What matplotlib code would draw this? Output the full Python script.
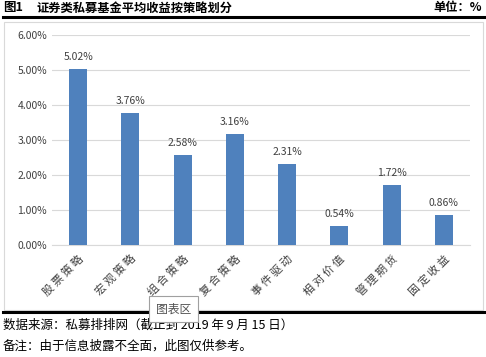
import matplotlib.pyplot as plt
from matplotlib.patches import Rectangle
from matplotlib.lines import Line2D
from matplotlib.ticker import FuncFormatter

plt.rcParams['font.family'] = ['Noto Sans CJK SC', 'DejaVu Sans']

# 数据
strategies = ['股票策略', '宏观策略', '组合策略', '复合策略', '事件驱动', '相对价值', '管理期货', '固定收益']
returns = [5.02, 3.76, 2.58, 3.16, 2.31, 0.54, 1.72, 0.86]
y_ticks = [0, 1, 2, 3, 4, 5, 6]

W, H = 486, 357
fig = plt.figure(figsize=(W / 100, H / 100), dpi=100)


def fx(px):
    return px / W


def fy(py):
    return 1 - py / H


# 标题
fig.text(fx(3), fy(8), '图1', fontsize=9, fontweight='bold', va='center', ha='left')
fig.text(fx(36), fy(8), '证券类私募基金平均收益按策略划分', fontsize=8.8, fontweight='bold', va='center', ha='left')
fig.text(fx(482), fy(8), '单位：%', fontsize=8.8, fontweight='bold', va='center', ha='right')

fig.add_artist(Line2D([fx(3), fx(486)], [fy(17), fy(17)], color='black', lw=2.2))
fig.add_artist(Line2D([fx(3), fx(486)], [fy(312), fy(312)], color='black', lw=2.2))

# 图表边框
fig.add_artist(Rectangle((fx(4), fy(310)), fx(479), (310 - 22) / H,
                         fill=False, edgecolor='#d9d9d9', lw=0.8))

ax = fig.add_axes([fx(52), fy(245), fx(470 - 52), (245 - 35) / H])
x = range(len(strategies))
ax.bar(x, returns, width=0.34, color='#4f81bd', zorder=3)
for i, v in zip(x, returns):
    ax.text(i, v + 0.2, f'{v:.2f}%', ha='center', va='bottom', fontsize=7.5, color='#404040')

ax.set_xlim(-0.5, len(strategies) - 0.5)
ax.set_ylim(0, 6)
ax.set_yticks(y_ticks)
ax.yaxis.set_major_formatter(FuncFormatter(lambda v, _: f'{v:.2f}%'))
ax.grid(axis='y', color='#d9d9d9', lw=0.8, zorder=0)
ax.set_xticks(list(x))
ax.set_xticklabels([' '.join(s) for s in strategies], rotation=45, ha='right',
                   rotation_mode='anchor', fontsize=8, color='#404040')
ax.tick_params(axis='both', length=0, labelsize=7.5, colors='#404040')
ax.tick_params(axis='x', pad=6, labelsize=8)
for s in ['top', 'right', 'left']:
    ax.spines[s].set_visible(False)
ax.spines['bottom'].set_color('#d9d9d9')

# 注释
fig.text(fx(3), fy(325), '数据来源：私募排排网（截止到 2019 年 9 月 15 日）', fontsize=9, va='center', ha='left')
fig.text(fx(3), fy(346), '备注：由于信息披露不全面，此图仅供参考。', fontsize=9, va='center', ha='left')

# 提示框
fig.text(fx(173.5), fy(309), '图表区', fontsize=8.5, va='center', ha='center', color='#505050',
         bbox=dict(boxstyle='square,pad=0.55', fc='white', ec='#a0a0a0', lw=0.8))

fig.savefig('out.png', dpi=100)
